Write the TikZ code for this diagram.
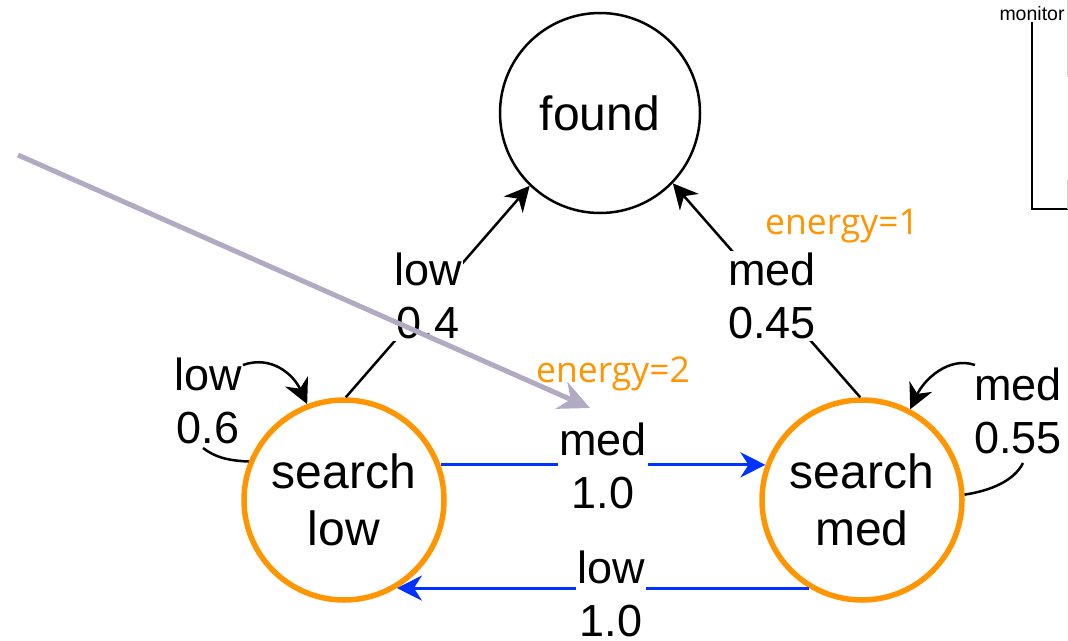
\documentclass[tikz,border=0pt]{standalone}
\usepackage{fontspec}
\setmainfont{Liberation Sans}
\newfontfamily\energyfont{Open Sans}
\usetikzlibrary{arrows.meta}

\definecolor{stateorange}{RGB}{255,149,0}
\definecolor{edgeblue}{RGB}{0,51,255}
\definecolor{pointergray}{RGB}{178,170,194}

\begin{document}
\begin{tikzpicture}[x=1pt,y=-1pt,
  state/.style={circle, draw, minimum size=200pt, inner sep=0pt, align=center,
    font=\fontsize{48}{57}\selectfont},
  active/.style={state, draw=stateorange, line width=5.5pt},
  goal/.style={state, draw=black, line width=2.5pt},
  prob/.style={fill=white, inner sep=1.5pt, align=center,
    font=\fontsize{45}{53}\selectfont},
  energy/.style={text=stateorange, anchor=base, inner sep=0pt,
    font=\energyfont\fontsize{35.5}{42}\selectfont},
  tip/.style={-{Stealth[length=25pt,width=25pt,inset=8pt]}},
  trans/.style={tip, line width=2.5pt, draw=black},
  switch/.style={tip, line width=3pt, draw=edgeblue},
  loop/.style={line width=2.5pt, draw=black},
  pointer/.style={-{Stealth[length=31pt,width=29pt,inset=10pt]}, line width=5pt,
    draw=pointergray},
]
\useasboundingbox (0,0) rectangle (1068,640);

% states
\node[goal]   (found) at (600,113) {found};
\node[active] (sl)    at (344,500) {search\\low};
\node[active] (sm)    at (862,500) {search\\med};

% transitions into the goal state
\draw[trans] (sl.89) -- (found.226);
\draw[trans] (sm.91) -- (found.316);

% transitions between the two search states
\draw[switch] (sl.20) -- (sm.160);
\draw[switch] (sm.239) -- (sl.301);

% self loops, split by their labels
\coordinate (llA) at (203,448);
\coordinate (llB) at (243,365);
\coordinate (mlA) at (1023,463);
\coordinate (mlB) at (975,365);
\draw[loop] (sl.158) .. controls +(-22,-1) and +(12,9) .. (llA);
\draw[loop,tip] (llB) .. controls +(28,-10) and +(-14,-30) .. (sl.111);
\draw[loop] (sm.3) .. controls +(26,-4) and +(-9,18) .. (mlA);
\draw[loop,tip] (mlB) .. controls +(-26,-9) and +(14,-30) .. (sm.62);

% edge labels
\node[prob] (pl04)  at (428,296) {low\\0.4};
\node[prob] (pm045) at (772,296) {med\\0.45};
\node[prob] (pm10)  at (603,466) {med\\1.0};
\node[prob] (pl10)  at (611,594) {low\\1.0};
\node[prob,fill=none] (pl06)  at (208,401) {low\\0.6};
\node[prob,fill=none] (pm055) at (1018,411) {med\\0.55};

% energy annotations
\node[energy] (e2) at (613,382) {energy=2};
\node[energy] (e1) at (842,234) {energy=1};

% monitor bracket
\node[anchor=base, inner sep=2pt, font=\fontsize{19.5}{22}\selectfont] (mon) at (1032,20) {monitor};
\coordinate (monEnd) at (1068,209);
\draw[line width=1.5pt] (mon.south) |- (monEnd);
\coordinate (edgeTop) at (1067,0);
\coordinate (edgeMid) at (1067,77);
\coordinate (edgeLow) at (1067,180);
\coordinate (edgeBot) at (1067,209);
\draw[gray!35, line width=1pt] (edgeTop) -- (edgeMid) (edgeLow) -- (edgeBot);

% pointer
\coordinate (pStart) at (18,155);
\coordinate (pEnd) at (590,408);
\draw[pointer] (pStart) -- (pEnd);
\end{tikzpicture}
\end{document}
